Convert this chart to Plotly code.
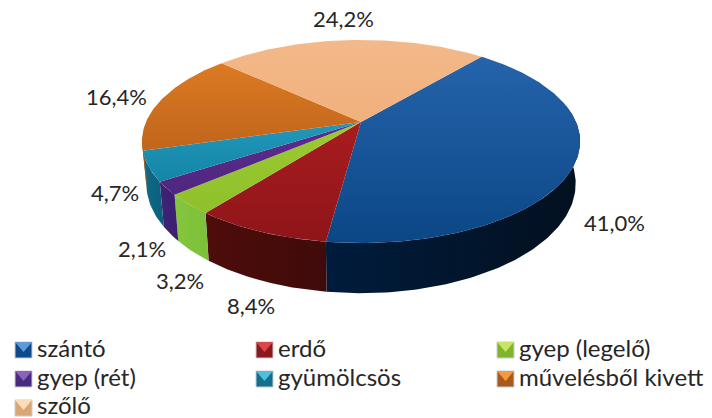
import math
import plotly.graph_objects as go

categories = ["szántó", "erdő", "gyep (legelő)", "gyep (rét)", "gyümölcsös", "művelésből kivett", "szőlő"]
values = [41.0, 8.4, 3.2, 2.1, 4.7, 16.4, 24.2]
top_light = ["#2563ab", "#a91c20", "#9ccb30", "#5c2d8e", "#2298bb", "#dc7a22", "#f3b98a"]
top_dark = ["#0b4786", "#8e1518", "#8fc02c", "#4f2680", "#1485a5", "#c0651c", "#f1b07c"]
side_a = ["#001c3c", "#4e0d0a", "#84c63c", "#3f2377", "#0e6c88", "#a8581a", "#c9895a"]
side_b = ["#03101f", "#3f0b0a", "#7cc03a", "#3a206e", "#0a5f7a", "#a8581a", "#c9895a"]
key_top = ["#5f9ad8", "#d9474b", "#c8e465", "#8a62ba", "#4fc0dc", "#f49a3c", "#fbdcb8"]
key_side = ["#0f4a8a", "#8c1a1c", "#7fb52c", "#4a2a7c", "#13708c", "#a85a1c", "#d9a676"]
label_pos = [(614, 222), (251, 305), (180, 280), (142, 248), (115, 192), (116, 96), (343, 18)]

X0, Y0, B, A, P, DEPTH, SHRINK = 361, 122, 215, 97.8, 0.192, 40.5, 0.98
START = 40.0
FONT = "Lato"


def rim(a, bottom=False):
    r = math.radians(a)
    u, v = math.sin(r), -math.cos(r)
    s = 1 / (1 - P * v)
    k = SHRINK if bottom else 1
    y = Y0 + A * v * s + (DEPTH * s if bottom else 0)
    return X0 + B * u * s * k, y


def arc(a0, a1, bottom=False):
    n = max(2, int(abs(a1 - a0)) + 2)
    return [rim(a0 + (a1 - a0) * i / (n - 1), bottom) for i in range(n)]


fig = go.Figure()
spans = []
acc = START
for val in values:
    spans.append((acc, acc + val * 3.6))
    acc += val * 3.6

# sides
for i, (a0, a1) in enumerate(spans):
    lo, hi = max(a0, 80), min(a1, 262)
    if hi <= lo:
        continue
    pts = arc(lo, hi) + arc(hi, lo, True)
    xs, ys = zip(*pts)
    fig.add_trace(go.Scatter(
        x=list(xs) + [xs[0]], y=list(ys) + [ys[0]], mode="lines", fill="toself",
        line=dict(width=0), hoverinfo="skip", showlegend=False,
        fillgradient=dict(type="horizontal", colorscale=[[0, side_a[i]], [1, side_b[i]]]),
    ))

# top faces
for i, (a0, a1) in enumerate(spans):
    pts = [(X0, Y0)] + arc(a0, a1)
    xs, ys = zip(*pts)
    fig.add_trace(go.Scatter(
        x=list(xs) + [X0], y=list(ys) + [Y0], mode="lines", fill="toself",
        line=dict(width=0), hoverinfo="skip", showlegend=False, name=categories[i],
        fillgradient=dict(type="vertical", colorscale=[[0, top_dark[i]], [1, top_light[i]]]),
    ))

# legend keys and text
cols = [15, 256, 497]
rows = [350, 379, 408]
text_rows = [347.5, 376, 404]
for i, name in enumerate(categories):
    kx = cols[i % 3]
    ky = rows[i // 3]
    hx, hy = 8.5, 8
    l, r, t, b, mx = kx, kx + 2 * hx, ky - hy, ky + hy, kx + hx
    fig.add_trace(go.Scatter(x=[l, r, r, l, l], y=[t, t, b, b, t], mode="lines", fill="toself",
                             fillcolor=key_side[i], line=dict(width=1, color="#c8ccd4"),
                             hoverinfo="skip", showlegend=False))
    fig.add_trace(go.Scatter(x=[l, r, mx, l], y=[t, t, ky + 2, t], mode="lines", fill="toself",
                             fillcolor=key_top[i], line=dict(width=0),
                             hoverinfo="skip", showlegend=False))
    fig.add_annotation(x=kx + 20, y=text_rows[i // 3], text=name, showarrow=False, xanchor="left", yanchor="middle",
                       font=dict(family=FONT, size=24, color="#262626"))

for val, (lx, ly) in zip(values, label_pos):
    fig.add_annotation(x=lx, y=ly, text=f"{val:.1f}%".replace(".", ","), showarrow=False,
                       font=dict(family=FONT, size=22, color="#262626"))

fig.update_layout(
    width=712, height=418, margin=dict(l=0, r=0, t=0, b=0), autosize=False,
    paper_bgcolor="white", plot_bgcolor="white", showlegend=False,
    xaxis=dict(range=[0, 712], visible=False, fixedrange=True),
    yaxis=dict(range=[418, 0], visible=False, fixedrange=True),
)
fig.write_html("out.html", config=dict(displayModeBar=False),
               post_script="document.body.style.margin='0';document.body.style.overflow='hidden';")
